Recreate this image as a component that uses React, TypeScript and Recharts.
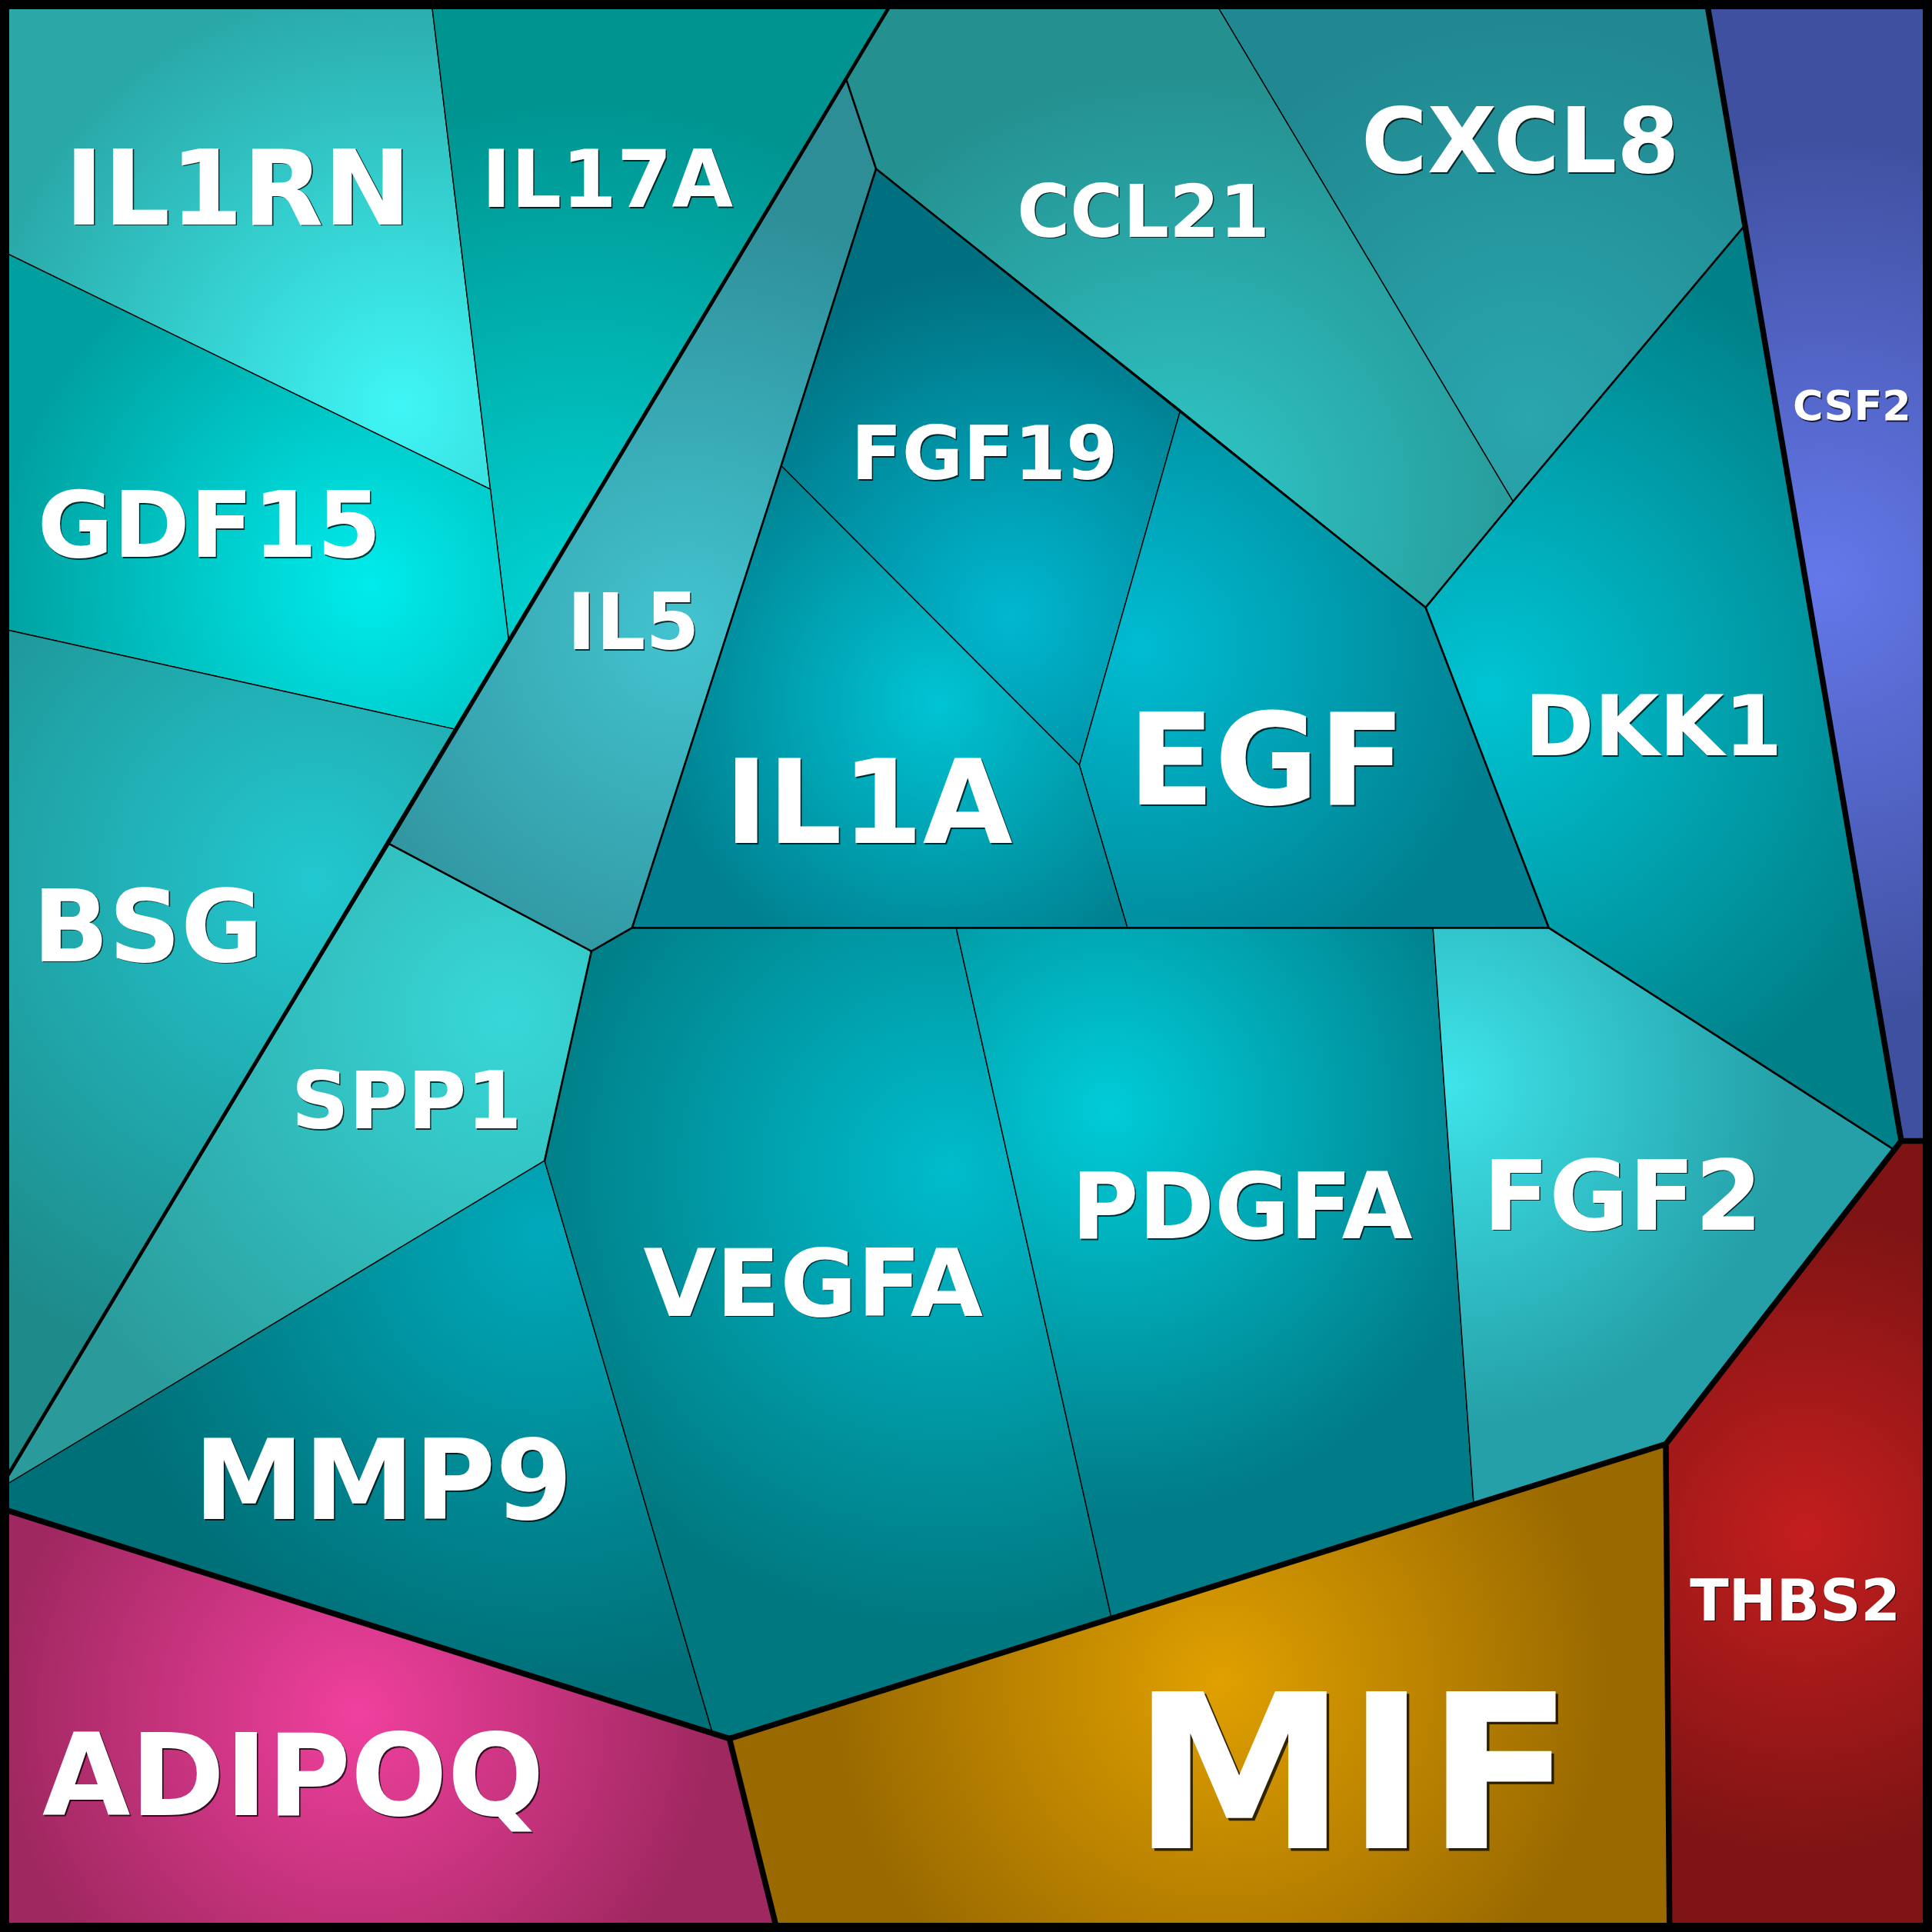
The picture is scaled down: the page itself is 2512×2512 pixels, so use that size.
import React from 'react';
import { LineChart, Line, XAxis, YAxis } from 'recharts';

const SIZE = 2512;
const SPAN = 1568; // frame units across the square, y grows downward

type Pt = [number, number];

// tessellation vertices, in frame units
const vertex: Record<string, Pt> = {
  TL: [0, 0], TR: [1568, 0], BR: [1568, 1568], BL: [0, 1568],
  A: [350, 0], B: [398, 397], C: [0, 203], D: [413, 521], E: [725, 0], AD: [687, 65],
  F: [370, 592], G: [0, 510], H: [316, 685], I: [0, 1208], J: [480, 772], K: [513, 753],
  L: [442, 942], M: [0, 1224], N: [592, 1411], O: [579, 1409], P: [631, 1568],
  Q: [902, 1313], R: [776, 753], S: [1196, 1220], T: [1163, 753], U: [1352, 1172],
  V: [1355, 1568], W: [1543, 926], W2: [1537, 933], X: [1568, 926], Y: [1257, 753],
  Z: [915, 753], AA: [876, 621], AB: [634, 378], AC: [711, 137], AE: [958, 333],
  AF: [1157, 493], AG: [1228, 407], AH: [985, 0], AI: [1385, 0], AJ: [1416, 183],
};

const genes = [
  'IL1RN', 'IL17A', 'GDF15', 'BSG', 'IL5', 'SPP1', 'MMP9', 'ADIPOQ', 'VEGFA', 'PDGFA',
  'FGF2', 'MIF', 'THBS2', 'CSF2', 'DKK1', 'CXCL8', 'CCL21', 'FGF19', 'EGF', 'IL1A',
];

const cellOutline: string[][] = [
  ['TL', 'A', 'B', 'C'],
  ['A', 'E', 'D', 'B'],
  ['C', 'B', 'D', 'F', 'G'],
  ['G', 'F', 'H', 'I'],
  ['AD', 'AC', 'AB', 'K', 'J', 'H'],
  ['H', 'J', 'L', 'I'],
  ['I', 'L', 'O', 'M'],
  ['M', 'N', 'P', 'BL'],
  ['J', 'K', 'R', 'Q', 'N', 'O', 'L'],
  ['R', 'T', 'S', 'Q'],
  ['T', 'Y', 'W2', 'U', 'S'],
  ['N', 'U', 'V', 'P'],
  ['W', 'X', 'BR', 'V', 'U'],
  ['AI', 'TR', 'X', 'W'],
  ['AJ', 'W', 'W2', 'Y', 'AF', 'AG'],
  ['AH', 'AI', 'AJ', 'AG'],
  ['E', 'AH', 'AG', 'AF', 'AE', 'AC', 'AD'],
  ['AC', 'AE', 'AA', 'AB'],
  ['AE', 'AF', 'Y', 'Z', 'AA'],
  ['AB', 'AA', 'Z', 'K'],
];

// generator sites (brightest point of each cell)
const siteX = [325, 470, 300, 255, 555, 410, 440, 290, 770, 900, 1175, 990, 1465, 1480, 1210, 1240, 955, 820, 925, 760];
const siteY = [330, 505, 475, 715, 510, 825, 1000, 1390, 950, 900, 880, 1365, 1245, 470, 560, 340, 410, 500, 525, 570];

const innerColor = [
  '#40f6f6', '#00d6d6', '#00ecec', '#22c8d0', '#42c4d0', '#38d8d8', '#00aabb', '#f0409e',
  '#00bccc', '#00ccd8', '#3ee4ea', '#e0a000', '#c41e1e', '#6478ea', '#00c4d4', '#2aa6ae',
  '#30c8c8', '#00b8d0', '#00bcd2', '#00c4d4',
];
const outerColor = [
  '#2aa8a8', '#009490', '#00a0a0', '#1e8a8a', '#2e8e98', '#2a9a9a', '#007078', '#a02860',
  '#007880', '#007c88', '#25a0a8', '#9a6a00', '#801414', '#4050a0', '#008088', '#208890',
  '#259090', '#007080', '#008090', '#008090',
];

// label anchors: horizontal centre and baseline
const labelX = [193, 493, 170, 120, 514, 330, 311, 238, 660, 1008, 1317, 1098, 1457, 1503, 1342, 1234, 928, 799, 1028, 705];
const labelY = [182, 168, 452, 780, 527, 916, 1233, 1473, 1068, 1005, 998, 1500, 1315, 341, 613, 140, 192, 389, 653, 684];
const labelFont = [136, 103, 120, 130, 101, 104, 144, 148, 122, 119, 126, 280, 74, 54, 109, 117, 94, 97, 165, 151];

// boundary polylines by hierarchy level
const edgesFine: string[][] = [
  ['AD', 'AC', 'AB', 'K', 'J', 'H'], ['J', 'L'], ['K', 'Y'], ['AC', 'AF'],
  ['AF', 'AG', 'AJ'], ['AF', 'Y', 'W2'],
];
const edgesSub: string[][] = [['E', 'I']];
const edgesTop: string[][] = [['M', 'N', 'U', 'W', 'X'], ['N', 'P'], ['U', 'V'], ['AI', 'W']];
const edgesFrame: string[][] = [['TL', 'TR', 'BR', 'BL', 'TL', 'TR']];

const toData = (keys: string[]) => keys.map((k) => ({ x: vertex[k][0], y: vertex[k][1], role: 'v' }));

function renderCell(p: any, i: number) {
  const { index, points } = p;
  if (index !== 0 || !points) return <g key={`c-${i}-${index}`} />;
  const verts = points.filter((q: any) => q.payload.role === 'v');
  const site = points.find((q: any) => q.payload.role === 's');
  const r = Math.max(...verts.map((q: any) => Math.hypot(q.x - site.x, q.y - site.y))) * 0.75;
  const id = `grad-${i}`;
  return (
    <g key={`c-${i}`}>
      <defs>
        <radialGradient id={id} gradientUnits="userSpaceOnUse" cx={site.x} cy={site.y} r={r}>
          <stop offset="0%" stopColor={innerColor[i]} />
          <stop offset="100%" stopColor={outerColor[i]} />
        </radialGradient>
      </defs>
      <polygon
        points={verts.map((q: any) => `${q.x},${q.y}`).join(' ')}
        fill={`url(#${id})`}
        stroke="#000"
        strokeWidth={1.4}
        strokeLinejoin="round"
      />
    </g>
  );
}

function renderEdge(p: any, w: number, key: string) {
  const { index, points } = p;
  if (index !== 0 || !points) return <g key={`${key}-${index}`} />;
  return (
    <polyline
      key={key}
      points={points.map((q: any) => `${q.x},${q.y}`).join(' ')}
      fill="none"
      stroke="#000"
      strokeWidth={w}
      strokeLinejoin="miter"
      strokeLinecap="round"
    />
  );
}

function renderLabel(p: any) {
  const { cx, cy, payload, index } = p;
  const s = payload.size;
  const off = Math.max(1.5, s * 0.012);
  const common = {
    textAnchor: 'middle' as const,
    fontFamily: 'DejaVu Sans',
    fontWeight: 'bold',
    fontSize: s,
  };
  return (
    <g key={`l-${index}`}>
      <text {...common} x={cx + off} y={cy + off} fill="#000" fillOpacity={0.75}>
        {payload.name}
      </text>
      <text {...common} x={cx} y={cy} fill="#fff">
        {payload.name}
      </text>
    </g>
  );
}

const cellData = genes.map((g, i) => [
  ...toData(cellOutline[i]),
  { x: siteX[i], y: siteY[i], role: 's' },
]);

const labelData = genes.map((g, i) => ({ x: labelX[i], y: labelY[i], name: g, size: labelFont[i] }));

export default function App() {
  const edgeLine = (keys: string[], w: number, key: string) => (
    <Line
      key={key}
      data={toData(keys)}
      dataKey="y"
      type="linear"
      stroke="none"
      dot={(p: any) => renderEdge(p, w, key)}
      activeDot={false}
      isAnimationActive={false}
    />
  );

  return (
    <div style={{ position: 'absolute', left: 0, top: 0, width: SIZE, height: SIZE, background: '#fff' }}>
      <LineChart width={SIZE} height={SIZE} margin={{ top: 0, right: 0, bottom: 0, left: 0 }}>
        <XAxis type="number" dataKey="x" domain={[0, SPAN]} allowDataOverflow hide />
        <YAxis type="number" domain={[0, SPAN]} reversed allowDataOverflow hide />
        {cellData.map((d, i) => (
          <Line
            key={`cell-${i}`}
            data={d}
            dataKey="y"
            type="linear"
            stroke="none"
            dot={(p: any) => renderCell(p, i)}
            activeDot={false}
            isAnimationActive={false}
          />
        ))}
        {edgesFine.map((e, i) => edgeLine(e, 2.6, `fine-${i}`))}
        {edgesSub.map((e, i) => edgeLine(e, 4.6, `sub-${i}`))}
        {edgesTop.map((e, i) => edgeLine(e, 7.5, `top-${i}`))}
        {edgesFrame.map((e, i) => edgeLine(e, 24, `frame-${i}`))}
        <Line
          data={labelData}
          dataKey="y"
          type="linear"
          stroke="none"
          dot={renderLabel}
          activeDot={false}
          isAnimationActive={false}
        />
      </LineChart>
    </div>
  );
}
